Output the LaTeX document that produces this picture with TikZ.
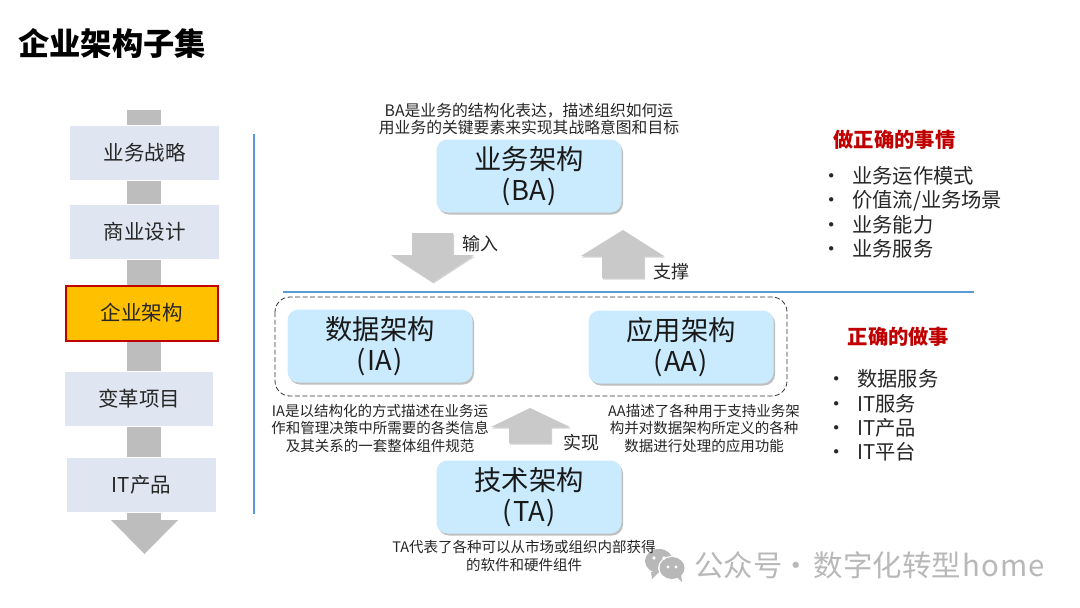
\documentclass[tikz,border=0pt]{standalone}
\usepackage{fontspec}
\setmainfont{Noto Sans CJK SC}
\usetikzlibrary{shadows}
\definecolor{stagefill}{HTML}{DFE5F1}
\definecolor{stagebar}{HTML}{BDBDBD}
\definecolor{stagegold}{HTML}{FFC000}
\definecolor{archfill}{HTML}{CAEAFD}
\definecolor{linkfill}{HTML}{C9C9C9}
\definecolor{ruleblue}{HTML}{5B9BD5}
\definecolor{headred}{HTML}{C00000}
\definecolor{markgray}{HTML}{B8B8B8}
\newcommand{\fs}[1]{\fontsize{#1}{#1}\selectfont}
\newcommand{\pk}[1]{(\kern1.5pt #1\kern1.5pt)}
\tikzset{
  stagebox/.style={draw=white,line width=1pt,fill=stagefill,inner sep=0pt,minimum height=55pt,font=\fs{20.5},text=black!85},
  goldbox/.style={draw=headred,line width=2pt,fill=stagegold,inner sep=0pt,minimum width=152pt,minimum height=55pt,font=\fs{20.5},text=black!85},
  archbox/.style={fill=archfill,rounded corners=11pt,inner sep=0pt,minimum width=185pt,minimum height=73pt,align=center,font=\fs{27.3},text=black!90,
    execute at begin node={\baselineskip=31pt},
    drop shadow={shadow xshift=1.5pt,shadow yshift=-2pt,opacity=.45,fill=black!55}},
  desc/.style={inner sep=0pt,align=center,font=\fs{14.5},text=black!85,execute at begin node={\baselineskip=17.5pt}},
  linklabel/.style={inner sep=0pt,font=\fs{18},text=black!85},
  headline/.style={inner sep=0pt,font=\fs{20.3}\bfseries,text=headred},
  item/.style={inner sep=0pt,anchor=west,font=\fs{20.3},text=black!85},
  linkarrow/.style={fill=linkfill,drop shadow={shadow xshift=1pt,shadow yshift=-1.5pt,opacity=.35,fill=black!50}},
}
\begin{document}
\begin{tikzpicture}[x=1pt,y=-1pt]
\useasboundingbox (0,0) rectangle (1080,608);
\fill[white] (0,0) rectangle (1080,608);
% watermark
\fill[markgray] (659,561) ellipse (14pt and 12pt);
\fill[markgray] (651,572) -- (652,579) -- (659,572) -- cycle;
\fill[white] (672,568) ellipse (14pt and 12pt);
\fill[markgray] (672,568) ellipse (12.5pt and 11pt);
\fill[markgray] (677,577) -- (682,582) -- (681,574) -- cycle;
\fill[white] (654,558) circle (1.8pt) (664,558) circle (1.8pt) (668,567) circle (1.6pt) (676,567) circle (1.6pt);
\node[inner sep=0pt,anchor=west,font=\fs{29.4},text=markgray] (mark) at (694,565) {公众号\kern-7pt\ ·\ \kern-4pt 数字化转型\kern2pt h\kern1pt o\kern1pt m\kern1pt e};
\node[inner sep=0pt,anchor=west,font=\fs{31.3}\bfseries] (title) at (18,43) {企业架构子集};
% left column
\fill[stagebar] (127,110) rectangle (161,520);
\fill[stagebar] (111,520) -- (178,520) -- (144.5,554) -- cycle;
\node[stagebox,minimum width=150pt] (strategy) at (144.5,153) {业务战略};
\node[stagebox,minimum width=150pt] (design) at (144.5,232) {商业设计};
\node[goldbox] (enterprise) at (141.5,313) {企业架构};
\node[stagebox,minimum width=149pt] (project) at (139,399) {变革项目};
\node[stagebox,minimum width=150pt] (product) at (141.5,485) {IT产品};
\draw[ruleblue,line width=2.6pt] (254,134) -- (254,514);
\draw[ruleblue,line width=2.6pt] (283,292) -- (974,292);
\draw[black!80,line width=.8pt,dash pattern=on 5pt off 2.5pt,rounded corners=15pt] (275,297) rectangle (787,396);
% architecture boxes
\node[archbox] (ba) at (529,176) {业务架构\\\pk{BA}};
\node[archbox] (ia) at (380,346) {数据架构\\\pk{IA}};
\node[archbox] (aa) at (681,347) {应用架构\\\pk{AA}};
\node[archbox] (ta) at (529,497) {技术架构\\\pk{TA}};
\node[desc,font=\fs{15.8}] (badesc) at (529,119) {BA是业务的结构化表达，描述组织如何运\\用业务的关键要素来实现其战略意图和目标};
\node[desc] (iadesc) at (380,428) {IA是以结构化的方式描述在业务运\\作和管理决策中所需要的各类信息\\及其关系的一套整体组件规范};
\node[desc] (aadesc) at (704,428) {AA描述了各种用于支持业务架\\构并对数据架构所定义的各种\\数据进行处理的应用功能};
\node[desc] (tadesc) at (524,556) {TA代表了各种可以从市场或组织内部获得\\的软件和硬件组件};
% link arrows
\fill[linkarrow] (412,233) -- (453,233) -- (453,255) -- (474,255) -- (432.5,282) -- (391,255) -- (412,255) -- cycle;
\fill[linkarrow] (623,230) -- (664,256) -- (644,256) -- (644,278) -- (602,278) -- (602,256) -- (581,256) -- cycle;
\fill[linkarrow] (530,408) -- (570,427) -- (551,427) -- (551,443) -- (509,443) -- (509,427) -- (491,427) -- cycle;
\node[linklabel] (input) at (480,244) {输入};
\node[linklabel] (support) at (671,272) {支撑};
\node[linklabel] (realize) at (581,443) {实现};
% right lists
\node[headline] (dothing) at (894.5,140) {做正确的事情};
\node[item] (ba1) at (821,176) {\makebox[31pt][l]{•}业务运作模式};
\node[item] (ba2) at (821,200.5) {\makebox[31pt][l]{•}价值流/业务场景};
\node[item] (ba3) at (821,225) {\makebox[31pt][l]{•}业务能力};
\node[item] (ba4) at (821,249) {\makebox[31pt][l]{•}业务服务};
\node[headline] (doright) at (898.5,337) {正确的做事};
\node[item] (it1) at (826,379) {\makebox[31pt][l]{•}数据服务};
\node[item] (it2) at (826,403.5) {\makebox[31pt][l]{•}IT服务};
\node[item] (it3) at (826,428) {\makebox[31pt][l]{•}IT产品};
\node[item] (it4) at (826,452) {\makebox[31pt][l]{•}IT平台};
\end{tikzpicture}
\end{document}
